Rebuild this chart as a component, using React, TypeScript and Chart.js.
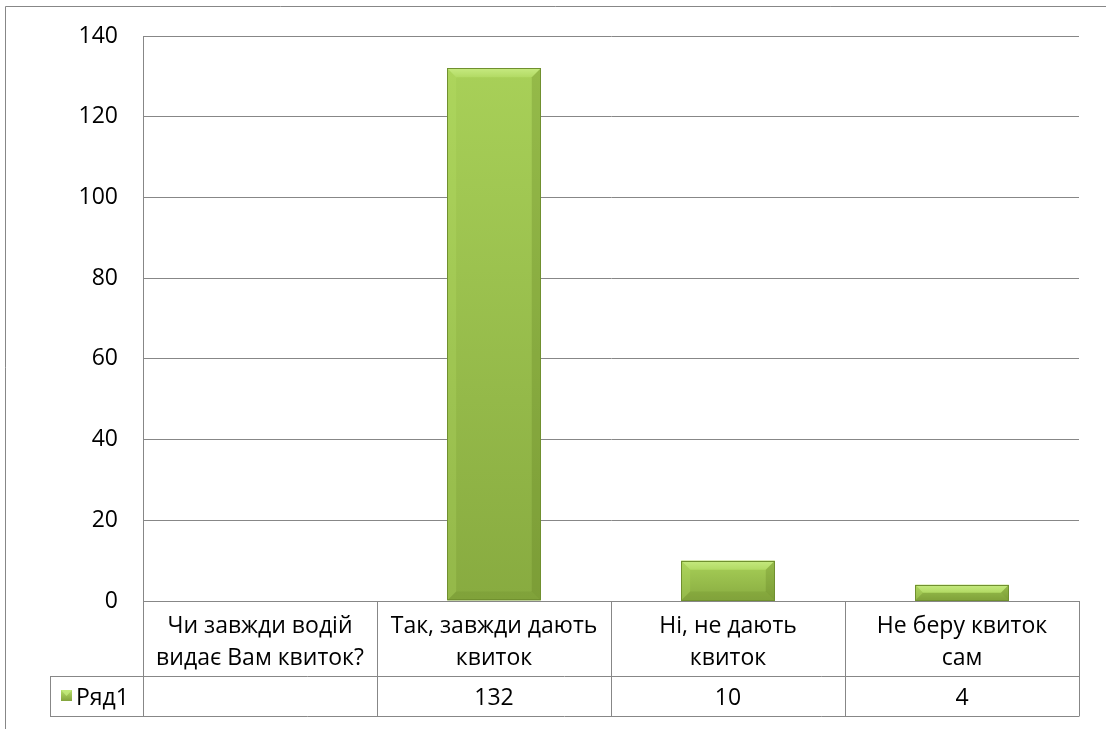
import React, { useEffect, useRef } from "react";
import { Chart, registerables } from "chart.js";

Chart.register(...registerables);

// Category captions, split into the two lines shown in the data table header
const categoryLines: string[][] = [
  ["Чи завжди водій", "видає Вам квиток?"],
  ["Так, завжди дають", "квиток"],
  ["Ні, не дають", "квиток"],
  ["Не беру квиток", "сам"],
];
const categories: string[] = categoryLines.map((l) => l.join(" "));
const seriesName = "Ряд1";
const seriesValues: (number | null)[] = [null, 132, 10, 4];
const yMin = 0;
const yMax = 140;
const yStep = 20;

const FONT = "'Open Sans', 'Noto Sans', sans-serif";
const FONT_SIZE = 23;
const LINE = "#878787";

function bevelFill(ctx: CanvasRenderingContext2D, x: number, top: number, w: number, h: number) {
  // body: vertical gradient from bright lime to olive
  const g = ctx.createLinearGradient(0, top, 0, top + h);
  g.addColorStop(0, "#a8d058");
  g.addColorStop(1, "#88ab40");
  ctx.fillStyle = g;
  ctx.fillRect(x, top, w, h);
  const b = Math.min(9, h / 2, w / 2);
  // top bevel
  const gt = ctx.createLinearGradient(0, top, 0, top + b);
  gt.addColorStop(0, "#c6ea80");
  gt.addColorStop(1, "#b2da64");
  ctx.fillStyle = gt;
  ctx.beginPath();
  ctx.moveTo(x, top);
  ctx.lineTo(x + w, top);
  ctx.lineTo(x + w - b, top + b);
  ctx.lineTo(x + b, top + b);
  ctx.closePath();
  ctx.fill();
  // left bevel
  ctx.fillStyle = "rgba(190,230,110,0.22)";
  ctx.beginPath();
  ctx.moveTo(x, top);
  ctx.lineTo(x + b, top + b);
  ctx.lineTo(x + b, top + h - b);
  ctx.lineTo(x, top + h);
  ctx.closePath();
  ctx.fill();
  // right bevel
  ctx.fillStyle = "rgba(80,110,25,0.22)";
  ctx.beginPath();
  ctx.moveTo(x + w, top);
  ctx.lineTo(x + w - b, top + b);
  ctx.lineTo(x + w - b, top + h - b);
  ctx.lineTo(x + w, top + h);
  ctx.closePath();
  ctx.fill();
  // bottom bevel
  ctx.fillStyle = "rgba(70,95,20,0.12)";
  ctx.beginPath();
  ctx.moveTo(x, top + h);
  ctx.lineTo(x + b, top + h - b);
  ctx.lineTo(x + w - b, top + h - b);
  ctx.lineTo(x + w, top + h);
  ctx.closePath();
  ctx.fill();
  ctx.strokeStyle = "#70902f";
  ctx.lineWidth = 1;
  ctx.strokeRect(Math.round(x) + 0.5, Math.round(top) + 0.5, Math.round(w) - 1, Math.round(h) - 1);
}

const bevelBars = {
  id: "bevelBars",
  afterDatasetsDraw(chart: any) {
    const ctx: CanvasRenderingContext2D = chart.ctx;
    const meta = chart.getDatasetMeta(0);
    ctx.save();
    meta.data.forEach((bar: any, i: number) => {
      if (seriesValues[i] == null) return;
      const { x, y, base, width } = bar.getProps(["x", "y", "base", "width"], true);
      bevelFill(ctx, x - width / 2, y, width, base - y);
    });
    ctx.restore();
  },
};

const dataTable = {
  id: "dataTable",
  afterDraw(chart: any) {
    const ctx: CanvasRenderingContext2D = chart.ctx;
    const area = chart.chartArea;
    const xs = chart.scales.x;
    const n = categories.length;
    const colW = (area.right - area.left) / n;
    const headTop = Math.round(area.bottom);
    const headBottom = headTop + 75;
    const rowBottom = headBottom + 40;
    const legendLeft = Math.round(area.left) - 93;
    const a = (v: number) => Math.round(v) + 0.5;

    ctx.save();
    ctx.strokeStyle = LINE;
    ctx.lineWidth = 1;
    ctx.beginPath();
    // horizontal rules
    ctx.moveTo(legendLeft, a(headBottom));
    ctx.lineTo(area.right, a(headBottom));
    ctx.moveTo(legendLeft, a(rowBottom));
    ctx.lineTo(area.right, a(rowBottom));
    // legend cell left edge
    ctx.moveTo(a(legendLeft), headBottom);
    ctx.lineTo(a(legendLeft), rowBottom);
    // column separators
    for (let i = 0; i <= n; i++) {
      const bx = a(area.left + i * colW);
      ctx.moveTo(bx, headTop);
      ctx.lineTo(bx, rowBottom + 0.5);
    }
    ctx.stroke();

    // outer frame of the chart object
    ctx.beginPath();
    ctx.moveTo(5.5, chart.height);
    ctx.lineTo(5.5, 6.5);
    ctx.lineTo(chart.width, 6.5);
    ctx.stroke();

    ctx.fillStyle = "#000";
    ctx.font = `${FONT_SIZE}px ${FONT}`;
    ctx.textAlign = "center";
    ctx.textBaseline = "middle";
    for (let i = 0; i < n; i++) {
      const cx = xs.getPixelForValue(i);
      const lines = categoryLines[i];
      const mid = (headTop + headBottom) / 2 + 4;
      const lh = 32;
      lines.forEach((t, k) => {
        ctx.fillText(t, cx, mid + (k - (lines.length - 1) / 2) * lh);
      });
      const v = seriesValues[i];
      if (v != null) ctx.fillText(String(v), cx, (headBottom + rowBottom) / 2 + 2);
    }

    // legend key and series name
    const ky = (headBottom + rowBottom) / 2;
    const kx = legendLeft + 11;
    const g = ctx.createLinearGradient(0, ky - 6, 0, ky + 6);
    g.addColorStop(0, "#b6de6a");
    g.addColorStop(1, "#7e9f38");
    ctx.fillStyle = g;
    ctx.fillRect(kx, ky - 6, 11, 11);
    ctx.fillStyle = "rgba(200,240,130,0.7)";
    ctx.beginPath();
    ctx.moveTo(kx, ky - 6);
    ctx.lineTo(kx + 11, ky - 6);
    ctx.lineTo(kx + 5.5, ky);
    ctx.closePath();
    ctx.fill();
    ctx.fillStyle = "#000";
    ctx.textAlign = "left";
    ctx.fillText(seriesName, kx + 15, ky + 2);
    ctx.restore();
  },
};

export default function App() {
  const ref = useRef<HTMLCanvasElement>(null);

  useEffect(() => {
    if (!ref.current) return;
    const chart = new Chart(ref.current, {
      type: "bar",
      data: {
        labels: categories,
        datasets: [
          {
            label: seriesName,
            data: seriesValues,
            backgroundColor: "rgba(0,0,0,0)",
            borderWidth: 0,
            barPercentage: 0.4,
            categoryPercentage: 1,
          },
        ],
      },
      options: {
        responsive: false,
        animation: false,
        events: [],
        layout: { padding: { left: 0, top: 36, right: 27, bottom: 128 } },
        plugins: { legend: { display: false }, tooltip: { enabled: false } },
        scales: {
          x: {
            display: false,
          },
          y: {
            min: yMin,
            max: yMax,
            afterFit: (s: any) => {
              s.width = 143;
              s.paddingTop = 0;
              s.paddingBottom = 0;
            },
            ticks: {
              stepSize: yStep,
              padding: 25,
              color: "#000",
              font: { family: FONT, size: FONT_SIZE, lineHeight: 1 },
            },
            grid: { color: LINE, lineWidth: 1, drawTicks: false },
            border: { display: true, color: LINE, width: 1 },
          },
        },
      },
      plugins: [bevelBars, dataTable],
    });
    return () => chart.destroy();
  }, []);

  return (
    <div style={{ position: "fixed", left: 0, top: 0, width: 1106, height: 729, background: "#fff" }}>
      <canvas ref={ref} width={1106} height={729} />
    </div>
  );
}
